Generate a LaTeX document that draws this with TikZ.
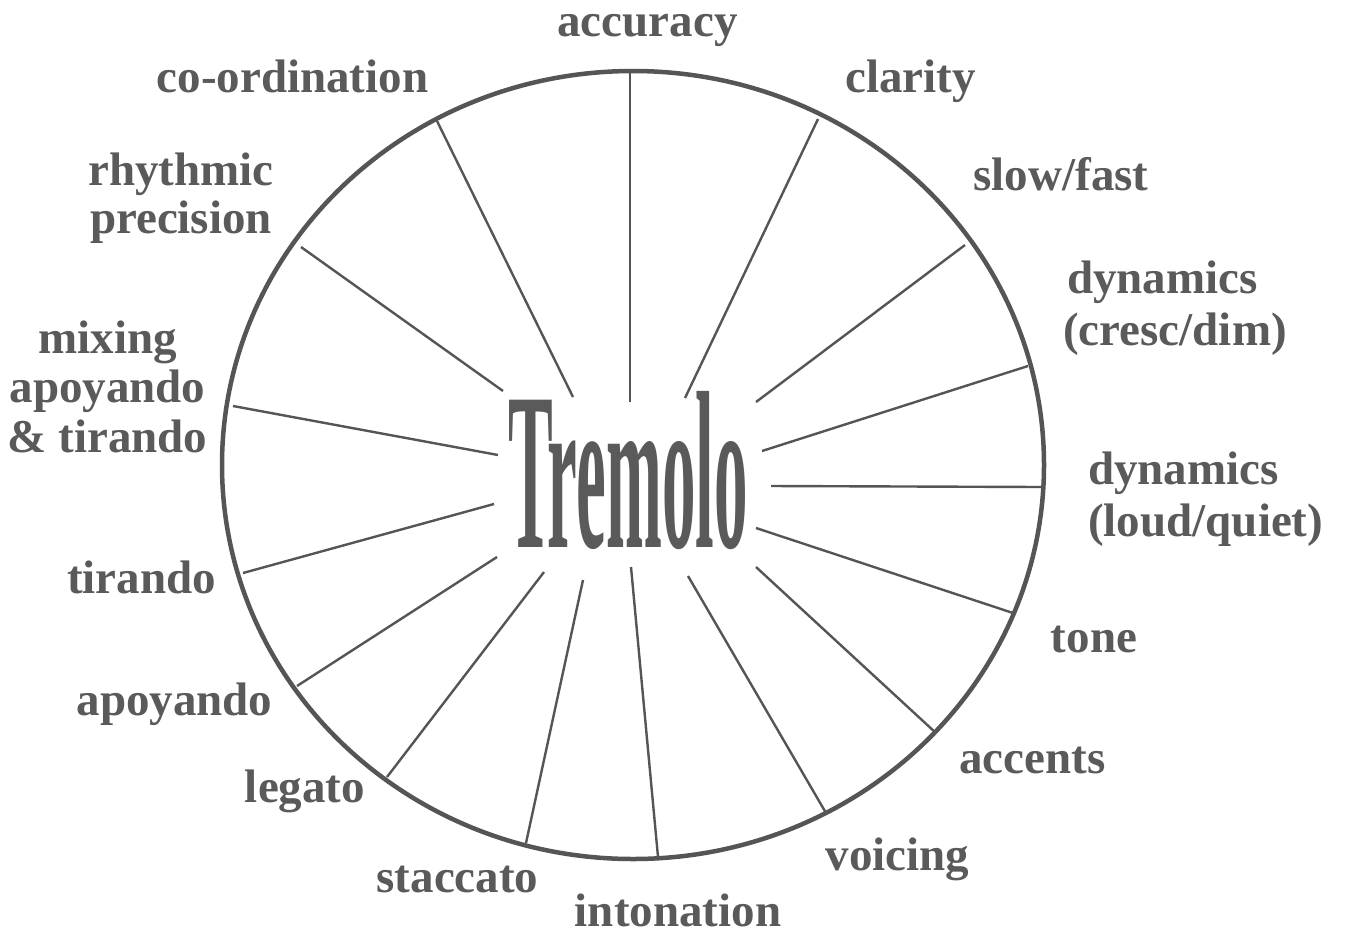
\documentclass[tikz,border=0pt]{standalone}
\usepackage{fontspec}
\setmainfont{Liberation Serif}
\definecolor{inkgray}{HTML}{5A5A5A}
\definecolor{linegray}{HTML}{555555}
\tikzset{
  lbl/.style={inner sep=0pt, text=inkgray, anchor=base,
    font=\fontsize{47}{49}\selectfont\bfseries},
  lblr/.style={lbl, align=left, anchor=base west,
    font=\fontsize{47}{52}\selectfont\bfseries},
  lblc/.style={lbl, align=center},
  spoke/.style={draw=linegray, line width=2.4pt},
  rim/.style={draw=linegray, line width=4.5pt}
}
\begin{document}
\begin{tikzpicture}[x=1pt,y=-1pt]
\useasboundingbox (0,0) rectangle (1356,935);
\fill[white] (0,0) rectangle (1356,935);
% outer circle
\draw[rim] (633,465) ellipse [x radius=411, y radius=394];
% spoke ends
\coordinate (i1) at (630,402);  \coordinate (o1) at (630,73);
\coordinate (i2) at (685,398);  \coordinate (o2) at (818,119);
\coordinate (i3) at (756,402);  \coordinate (o3) at (965,245);
\coordinate (i4) at (762,451);  \coordinate (o4) at (1028,366);
\coordinate (i5) at (771,486);  \coordinate (o5) at (1042,487);
\coordinate (i6) at (756,528);  \coordinate (o6) at (1013,613);
\coordinate (i7) at (756,567);  \coordinate (o7) at (936,733);
\coordinate (i8) at (688,576);  \coordinate (o8) at (826,813);
\coordinate (i9) at (631,567);  \coordinate (o9) at (658,857);
\coordinate (i10) at (583,580); \coordinate (o10) at (526,843);
\coordinate (i11) at (544,572); \coordinate (o11) at (387,777);
\coordinate (i12) at (497,557); \coordinate (o12) at (297,686);
\coordinate (i13) at (494,504); \coordinate (o13) at (243,573);
\coordinate (i14) at (498,455); \coordinate (o14) at (233,406);
\coordinate (i15) at (503,391); \coordinate (o15) at (301,247);
\coordinate (i16) at (573,397); \coordinate (o16) at (437,121);
\foreach \k in {1,...,16} \draw[spoke] (i\k) -- (o\k);
% centre word
\node[inner sep=0pt, anchor=base, text=inkgray] (tremolo) at (628,547)
  {\scalebox{0.298}[1]{\fontsize{225}{225}\selectfont\bfseries Tremolo}};
% labels
\node[lbl] (accuracy) at (647.5,36) {accuracy};
\node[lbl] (clarity) at (910.5,92) {clarity};
\node[lbl] (coord) at (292.5,92) {co-ordination};
\node[lbl] (slowfast) at (1061,190) {slow/fast};
\node[lblc, font=\fontsize{47}{48}\selectfont\bfseries] (rhythmic) at (181,233) {rhythmic\\precision};
\node[lblc, font=\fontsize{47}{49.5}\selectfont\bfseries] (mixing) at (107.5,452) {mixing\\apoyando\\\&~tirando};
\node[lblr] (dyncresc) at (1063,345) {\hspace*{4pt}dynamics\\(cresc/dim)};
\node[lblr] (dynloud) at (1088,536) {dynamics\\(loud/quiet)};
\node[lbl] (tirando) at (141.5,593) {tirando};
\node[lbl] (apoyando) at (174.5,715) {apoyando};
\node[lbl] (legato) at (305,802) {legato};
\node[lbl] (staccato) at (457.5,892) {staccato};
\node[lbl] (intonation) at (678,926) {intonation};
\node[lbl] (voicing) at (897.5,870) {voicing};
\node[lbl] (accents) at (1032.5,773) {accents};
\node[lbl] (tone) at (1094,652) {tone};
\end{tikzpicture}
\end{document}
